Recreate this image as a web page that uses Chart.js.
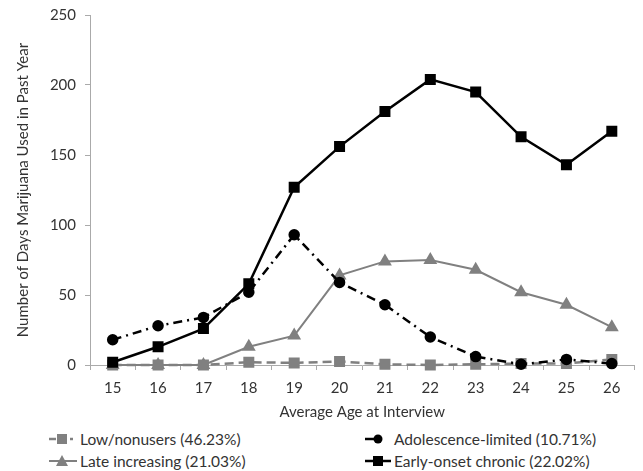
<!DOCTYPE html>
<html>
<head>
<meta charset="utf-8">
<script src="https://cdn.jsdelivr.net/npm/chart.js@4/dist/chart.umd.min.js"></script>
<style>
  body { margin: 0; background: #fff; font-family: Lato, "Open Sans", sans-serif; }
  #wrap { position: relative; width: 643px; height: 471px; }
  #box { position: absolute; left: 0; top: 0; width: 643px; height: 425px; }
  .leg { position: absolute; font-size: 15.5px; color: #333; display: flex; align-items: center; white-space: nowrap; }
  .leg svg { margin-right: 2px; }
</style>
</head>
<body>
<div id="wrap">
  <div id="box"><canvas id="chart1"></canvas></div>
  <div class="leg" style="left:48px;top:430px;">
    <svg width="30" height="14"><line x1="1" y1="7" x2="8" y2="7" stroke="#808080" stroke-width="2.5"/><rect x="9" y="2" width="10" height="10" fill="#808080"/><line x1="22" y1="7" x2="25" y2="7" stroke="#808080" stroke-width="2.5"/></svg>Low/nonusers (46.23%)</div>
  <div class="leg" style="left:48px;top:452px;">
    <svg width="30" height="14"><line x1="1" y1="7" x2="29" y2="7" stroke="#808080" stroke-width="2"/><polygon points="14,1 20,12 8,12" fill="#808080"/></svg>Late increasing (21.03%)</div>
  <div class="leg" style="left:362px;top:430px;">
    <svg width="30" height="14"><line x1="3" y1="7" x2="12" y2="7" stroke="#000" stroke-width="2.5"/><circle cx="16" cy="7" r="4.5" fill="#000"/></svg>Adolescence-limited (10.71%)</div>
  <div class="leg" style="left:362px;top:452px;">
    <svg width="30" height="14"><line x1="3" y1="7" x2="29" y2="7" stroke="#000" stroke-width="2.5"/><rect x="11" y="2" width="10" height="10" fill="#000"/></svg>Early-onset chronic (22.02%)</div>
</div>
<script>
const ages = ['15', '16', '17', '18', '19', '20', '21', '22', '23', '24', '25', '26'];
const lowNonusers = [0, 0, 0, 2, 1.5, 2.5, 0.5, 0, 0.5, 1, 1, 4];
const adolescenceLimited = [18, 28, 34, 52, 93, 59, 43, 20, 6, 0.5, 4, 1];
const lateIncreasing = [0, 0, 0, 13, 21, 64, 74, 75, 68, 52, 43, 27];
const earlyOnsetChronic = [2, 13, 26, 58, 127, 156, 181, 204, 195, 163, 143, 167];

const font = { family: 'Lato, "Open Sans", sans-serif', size: 15 };

const data = {
    labels: ages,
    datasets: [{
        label: 'Low/nonusers (46.23%)',
        data: lowNonusers,
        borderColor: '#808080',
        backgroundColor: '#808080',
        borderWidth: 2.5,
        borderDash: [9, 5],
        pointStyle: 'rect',
        pointRadius: 6,
        clip: false,
        order: 2
    }, {
        label: 'Adolescence-limited (10.71%)',
        data: adolescenceLimited,
        borderColor: '#000',
        backgroundColor: '#000',
        borderWidth: 2.5,
        borderDash: [9, 5, 2, 5],
        pointStyle: 'circle',
        pointRadius: 4.5,
        clip: false,
        order: 1
    }, {
        label: 'Late increasing (21.03%)',
        data: lateIncreasing,
        borderColor: '#808080',
        backgroundColor: '#808080',
        borderWidth: 2,
        pointStyle: 'triangle',
        pointRadius: 6,
        clip: false,
        order: 3
    }, {
        label: 'Early-onset chronic (22.02%)',
        data: earlyOnsetChronic,
        borderColor: '#000',
        backgroundColor: '#000',
        borderWidth: 2.5,
        pointStyle: 'rect',
        pointRadius: 6,
        clip: false,
        order: 0
    }]
};

const config = {
    type: 'line',
    data: data,
    options: {
        responsive: true,
        maintainAspectRatio: false,
        animation: false,
        layout: { padding: { top: 15, right: 5, left: 14, bottom: 0 } },
        plugins: { legend: { display: false }, tooltip: { enabled: false } },
        scales: {
            x: {
                offset: true,
                grid: { offset: true, drawOnChartArea: false, color: '#aaa', tickLength: 5 },
                border: { color: '#aaa' },
                ticks: { color: '#333', font: font, padding: 9 },
                title: { display: true, text: 'Average Age at Interview', color: '#333', font: font, padding: { top: 5 } },
                afterFit: (axis) => { axis.height = 60; }
            },
            y: {
                min: 0,
                max: 250,
                ticks: { stepSize: 50, color: '#333', font: font, padding: 9 },
                grid: { drawOnChartArea: false, color: '#aaa', tickLength: 5 },
                border: { color: '#aaa' },
                title: { display: true, text: 'Number of Days Marijuana Used in Past Year', color: '#333', font: font, padding: 0 },
                afterFit: (axis) => { axis.width = 76; axis.paddingTop = 0; }
            }
        }
    }
};

// eslint-disable-next-line
const chartOne = new Chart(document.getElementById('chart1'), config);
</script>
</body>
</html>
